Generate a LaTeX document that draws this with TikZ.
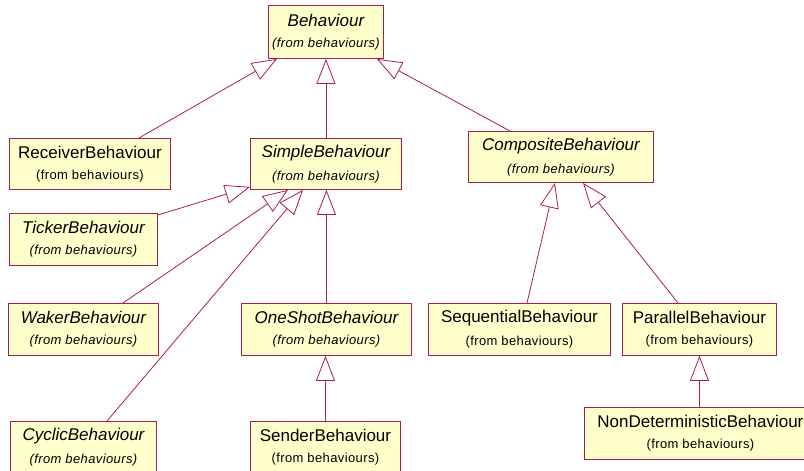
\documentclass[tikz,border=0pt]{standalone}
\usepackage{fontspec}
\setmainfont{Liberation Sans}
\usetikzlibrary{arrows.meta}
\definecolor{umlline}{RGB}{168,30,78}
\definecolor{umlfill}{RGB}{255,255,204}
\newcommand{\cls}[2]{{\fontsize{17}{20}\selectfont #1}\\[9pt]{\fontsize{13}{20}\selectfont\addfontfeatures{LetterSpace=3}#2}}
\tikzset{
  umlbox/.style={draw=umlline, fill=umlfill, line width=0.9pt, align=center, inner sep=0pt, anchor=north west},
  absbox/.style={umlbox, font=\itshape},
  gen/.style={draw=umlline, line width=0.8pt, -{Triangle[open, length=25pt, width=19pt, line width=0.8pt]}},
}
\begin{document}
\begin{tikzpicture}[x=1pt,y=-1pt]
\useasboundingbox (0,0) rectangle (804,471);
% row 0
\node[absbox, minimum width=115pt, minimum height=53pt] (beh) at (268,5) {\cls{Behaviour}{(from behaviours)}};
% row 1
\node[umlbox, minimum width=161pt, minimum height=51pt] (recv) at (9,138) {\cls{ReceiverBehaviour}{(from behaviours)}};
\node[absbox, minimum width=151pt, minimum height=51pt] (simple) at (250,138) {\cls{SimpleBehaviour}{(from behaviours)}};
\node[absbox, minimum width=185pt, minimum height=51pt] (comp) at (468,131) {\cls{CompositeBehaviour}{(from behaviours)}};
% row 2
\node[absbox, minimum width=148pt, minimum height=52pt] (ticker) at (9,213) {\cls{TickerBehaviour}{(from behaviours)}};
% row 3
\node[absbox, minimum width=150pt, minimum height=52pt] (waker) at (8,303) {\cls{WakerBehaviour}{(from behaviours)}};
\node[absbox, minimum width=170pt, minimum height=52pt] (oneshot) at (241,303) {\cls{OneShotBehaviour}{(from behaviours)}};
\node[umlbox, minimum width=182pt, minimum height=52pt] (seq) at (428,303) {\cls{SequentialBehaviour}{(from behaviours)}};
\node[umlbox, minimum width=154pt, minimum height=52pt] (par) at (622,303) {\cls{ParallelBehaviour}{(from behaviours)}};
% row 4
\node[umlbox, minimum width=232pt, minimum height=52pt] (nondet) at (584,407) {\cls{NonDeterministicBehaviour}{(from behaviours)}};
\node[absbox, minimum width=146pt, minimum height=52pt] (cyclic) at (10,421) {\cls{CyclicBehaviour}{(from behaviours)}};
\node[umlbox, minimum width=150pt, minimum height=52pt] (sender) at (250,421) {\cls{SenderBehaviour}{(from behaviours)}};
% generalisations
\draw[gen] ([xshift=130pt]recv.north west) -- ([xshift=9pt]beh.south west);
\draw[gen] (simple.north) -- (simple.north |- beh.south);
\draw[gen] ([xshift=42pt]comp.north west) -- ([xshift=-7pt]beh.south east);
\draw[gen] ([yshift=-2pt]ticker.north east) -- ([yshift=3pt]simple.south west);
\draw[gen] ([xshift=115pt]waker.north west) -- ([xshift=38pt]simple.south west);
\draw[gen] ([xshift=97pt]cyclic.north west) -- ([xshift=53pt]simple.south west);
\draw[gen] (oneshot.north) -- (oneshot.north |- simple.south);
\draw[gen] (sender.north) -- (sender.north |- oneshot.south);
\draw[gen] ([xshift=99pt]seq.north west) -- ([xshift=87pt]comp.south west);
\draw[gen] ([xshift=56pt]par.north west) -- ([xshift=115pt]comp.south west);
\draw[gen] (nondet.north -| par.south) -- (par.south);
\end{tikzpicture}
\end{document}
